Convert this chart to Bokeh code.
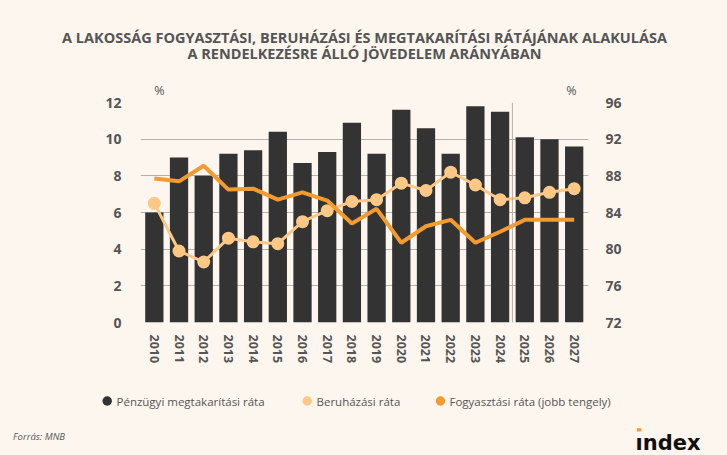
from bokeh.plotting import figure
from bokeh.models import Range1d, LinearAxis, FixedTicker, Span, Label, ColumnDataSource
from bokeh.embed import file_html
from bokeh.resources import INLINE

# ---- data ----
years = [2010, 2011, 2012, 2013, 2014, 2015, 2016, 2017, 2018,
         2019, 2020, 2021, 2022, 2023, 2024, 2025, 2026, 2027]
savings = [6.0, 9.0, 8.0, 9.2, 9.4, 10.4, 8.7, 9.3, 10.9,
           9.2, 11.6, 10.6, 9.2, 11.8, 11.5, 10.1, 10.0, 9.6]
invest = [6.5, 3.9, 3.3, 4.6, 4.4, 4.3, 5.5, 6.1, 6.6,
          6.7, 7.6, 7.2, 8.2, 7.5, 6.7, 6.8, 7.1, 7.3]
consumption = [87.7, 87.4, 89.1, 86.5, 86.6, 85.4, 86.2, 85.3, 82.8,
               84.4, 80.7, 82.5, 83.2, 80.7, 81.9, 83.2, 83.2, 83.2]
left_ticks = [0, 2, 4, 6, 8, 10, 12]
right_ticks = [72, 76, 80, 84, 88, 92, 96]
forecast_start = 2024.5

title_lines = ["A LAKOSSÁG FOGYASZTÁSI, BERUHÁZÁSI ÉS MEGTAKARÍTÁSI RÁTÁJÁNAK ALAKULÁSA",
               "A RENDELKEZÉSRE ÁLLÓ JÖVEDELEM ARÁNYÁBAN"]
legend_names = ["Pénzügyi megtakarítási ráta", "Beruházási ráta", "Fogyasztási ráta (jobb tengely)"]
unit_label = "%"
source_text = "Forrás: MNB"
logo_text = "ındex"

# ---- style ----
BG = "#FDF6EF"
BAR = "#333333"
LIGHT = "#FDC886"
ORANGE = "#F39B31"
TXT = "#555555"
GRID = "#b3b0ad"
FONT = "Open Sans"
W = 727
TOP_H, MAIN_H, BOT_H = 78, 292, 85


def blank(h):
    # a text-only strip whose data coordinates are its own pixels (y grows downward)
    f = figure(width=W, height=h, x_range=Range1d(0, W), y_range=Range1d(h, 0),
               output_backend="svg", toolbar_location=None, title_location=None,
               x_axis_type=None, y_axis_type=None,
               background_fill_color=BG, border_fill_color=BG, outline_line_color=None,
               min_border_left=0, min_border_right=0, min_border_top=0, min_border_bottom=0)
    f.xgrid.visible = False
    f.ygrid.visible = False
    return f


def label(fig, x, y, text, size, style="normal", align="left", baseline="alphabetic",
          color=TXT, font=FONT):
    fig.add_layout(Label(x=x, y=y, text=text, text_align=align, text_baseline=baseline,
                         text_font=font, text_font_style=style, text_font_size=size,
                         text_color=color))


# ---- header strip ----
top = blank(TOP_H)
for txt, base in zip(title_lines, [36.5, 53.0]):
    label(top, 364, base, txt, "14.5px", style="bold", align="center")

# ---- main chart ----
X0, X1 = 2009.44, 2027.58
p = figure(width=W, height=MAIN_H, x_range=Range1d(X0, X1), y_range=Range1d(0, 12),
           output_backend="svg", toolbar_location=None, title_location=None,
           background_fill_color=BG, border_fill_color=BG, outline_line_color=None,
           min_border_left=140, min_border_right=139, min_border_top=22, min_border_bottom=48)
p.extra_y_ranges = {"right": Range1d(72, 96)}
p.extra_x_ranges = {"px": Range1d(0, 448)}

src = ColumnDataSource(dict(year=years, savings=savings, invest=invest, consumption=consumption))

p.vbar(x="year", top="savings", bottom=0, width=0.74, source=src, fill_color=BAR, line_color=None)
p.line("year", "invest", source=src, line_color=LIGHT, line_width=3)
p.scatter("year", "invest", source=src, size=13, fill_color=LIGHT, line_color=None)
p.line("year", "consumption", source=src, y_range_name="right", line_color=ORANGE, line_width=4)

p.add_layout(Span(location=forecast_start, dimension="height", line_color=GRID, line_width=1))

p.xgrid.visible = False
p.ygrid.ticker = FixedTicker(ticks=left_ticks)
p.ygrid.grid_line_color = GRID
p.ygrid.grid_line_width = 1


def style_axis(ax, standoff):
    ax.axis_line_color = None
    ax.major_tick_line_color = None
    ax.minor_tick_line_color = None
    ax.major_tick_out = 0
    ax.major_tick_in = 0
    ax.major_label_standoff = standoff
    ax.major_label_text_font = FONT
    ax.major_label_text_font_style = "bold"
    ax.major_label_text_color = TXT


p.yaxis.ticker = FixedTicker(ticks=left_ticks)
style_axis(p.yaxis[0], 19)
p.yaxis.major_label_text_font_size = "14px"

p.xaxis.ticker = FixedTicker(ticks=years)
p.xaxis.major_label_overrides = {y: str(y) for y in years}
style_axis(p.xaxis[0], 12)
p.xaxis.major_label_orientation = "vertical"
p.xaxis.major_label_text_font_size = "12.5px"

raxis = LinearAxis(y_range_name="right", ticker=FixedTicker(ticks=right_ticks))
style_axis(raxis, 17)
raxis.major_label_text_font_size = "14px"
p.add_layout(raxis, "right")

# "%" unit marks above both value axes (pixel offsets from the frame's left edge)
pct_pos = [19, 431]
pct_axis = LinearAxis(x_range_name="px", ticker=FixedTicker(ticks=pct_pos),
                      major_label_overrides={k: unit_label for k in pct_pos})
style_axis(pct_axis, 4)
pct_axis.major_label_text_font_style = "normal"
pct_axis.major_label_text_font_size = "12.5px"
p.add_layout(pct_axis, "above")

# ---- footer strip: legend, source, logo ----
bot = blank(BOT_H)
key_x = [106.7, 306.7, 440.0]
text_x = [116, 316, 449]
leg = ColumnDataSource(dict(x=key_x, y=[30.5] * 3, color=[BAR, LIGHT, ORANGE]))
bot.scatter("x", "y", source=leg, size=9.5, fill_color="color", line_color=None)
for name, tx in zip(legend_names, text_x):
    label(bot, tx, 30.5, name, "11.5px", baseline="middle")
label(bot, 12.5, 66, source_text, "9.5px", style="italic", baseline="middle")
label(bot, 635, 72.5, logo_text, "21px", style="bold", color="#111111", font="DejaVu Sans")
bot.quad(left=[636.4], right=[640.9], top=[57.8], bottom=[61.0], fill_color=ORANGE, line_color=None)

html = file_html([top, p, bot], INLINE)
html = html.replace("</head>",
                    "<style>html,body{margin:0;padding:0;background:%s;}</style></head>" % BG)
open("out.html", "w").write(html)
